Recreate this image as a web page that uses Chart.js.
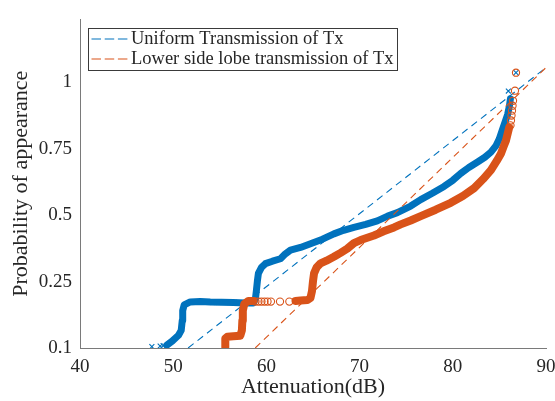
<!DOCTYPE html>
<html>
<head>
<meta charset="utf-8">
<script src="https://cdn.jsdelivr.net/npm/chart.js@4.4.0/dist/chart.umd.min.js"></script>
<style>
  html, body { margin: 0; padding: 0; background: #ffffff; }
  #wrap { width: 555px; height: 401px; }
</style>
</head>
<body>
<div id="wrap"><canvas id="chart" width="555" height="401" style="width:555px;height:401px"></canvas></div>
<script>
// Probability-scale positions (0 = 0.1, 1 = 0.25, 2 = 0.5, 3 = 0.75, 4 = 1)
const yTickPos = [0, 1, 2, 3, 4];
const yTickLabels = ['0.1', '0.25', '0.5', '0.75', '1'];

// Uniform transmission: dense sample band and isolated samples
const blueBandX = [49.32, 49.89, 50.57, 50.86, 50.97, 51.02, 51.18, 51.83, 52.90, 53.98, 55.20, 56.45, 57.74, 58.60, 58.82, 58.92, 59.03, 59.14, 59.46, 59.89, 60.65, 61.51, 62.04, 62.58, 63.66, 64.73, 66.02, 67.24, 68.28, 69.39, 70.65, 71.90, 73.01, 74.05, 75.48, 76.56, 77.85, 79.06, 80.00, 80.86, 81.72, 82.66, 83.44, 84.09, 84.62, 84.98, 85.27, 85.52, 85.88, 86.08, 86.18];
const blueBandY = [0.044, 0.103, 0.192, 0.266, 0.413, 0.561, 0.649, 0.694, 0.701, 0.694, 0.690, 0.686, 0.679, 0.679, 0.738, 0.856, 1.004, 1.122, 1.210, 1.269, 1.306, 1.343, 1.417, 1.472, 1.513, 1.569, 1.638, 1.717, 1.771, 1.815, 1.860, 1.914, 1.985, 2.037, 2.136, 2.233, 2.332, 2.431, 2.524, 2.627, 2.716, 2.800, 2.871, 2.948, 3.041, 3.144, 3.262, 3.365, 3.513, 3.646, 3.749];
const blueMarkX = [47.71, 48.60, 48.92, 54.19, 54.84, 55.48, 56.02, 56.56, 85.96, 86.78];
const blueMarkY = [0.020, 0.030, 0.035, 0.686, 0.686, 0.690, 0.686, 0.686, 3.867, 4.143];

// Lower side lobe transmission: two dense bands and isolated samples
const orangeLowX = [55.59, 55.59, 55.81, 56.45, 57.20, 57.37, 57.42, 57.47, 57.63, 58.06, 58.60];
const orangeLowY = [0.015, 0.143, 0.170, 0.177, 0.185, 0.266, 0.413, 0.561, 0.664, 0.708, 0.708];
const orangeHighX = [63.12, 63.66, 64.41, 64.73, 64.89, 65.00, 65.11, 65.38, 65.81, 66.45, 67.24, 67.96, 68.68, 69.39, 70.11, 71.54, 72.58, 73.69, 74.41, 75.48, 76.56, 78.17, 79.78, 81.08, 82.29, 83.23, 84.09, 84.73, 85.16, 85.48, 85.70, 86.05];
const orangeHighY = [0.708, 0.716, 0.723, 0.753, 0.856, 1.004, 1.122, 1.210, 1.274, 1.314, 1.373, 1.432, 1.495, 1.579, 1.624, 1.693, 1.756, 1.815, 1.860, 1.919, 1.985, 2.081, 2.185, 2.288, 2.406, 2.539, 2.676, 2.819, 2.923, 3.041, 3.119, 3.317];
const orangeMarkX = [58.83, 59.15, 59.47, 59.80, 60.12, 60.49, 61.46, 62.46, 86.19, 86.24, 86.30, 86.35, 86.41, 86.46, 86.67, 86.78];
const orangeMarkY = [0.698, 0.698, 0.698, 0.698, 0.698, 0.698, 0.698, 0.698, 3.351, 3.424, 3.498, 3.572, 3.646, 3.720, 3.872, 4.143];

// Reference (fit) lines
const uniformFitX = [51.6, 90];
const uniformFitY = [0, 4.22];
const lowerFitX = [58.8, 90];
const lowerFitY = [0, 4.22];

const BLUE = '#0072BD';
const ORANGE = '#D95319';
const TEXT = '#262626';
const AXIS = '#7a7a7a';
const SERIF = "'Liberation Serif', 'Times New Roman', serif";

const pts = (xs, ys) => xs.map((x, i) => ({ x: x, y: ys[i] }));

function band(xs, ys, color, width, order) {
  return {
    data: pts(xs, ys), showLine: true, borderColor: color, backgroundColor: color,
    borderWidth: width, pointRadius: 0, borderCapStyle: 'round', borderJoinStyle: 'round',
    tension: 0, order: order
  };
}
function marks(xs, ys, color, style, radius, order) {
  return {
    data: pts(xs, ys), showLine: false, borderColor: color, backgroundColor: 'rgba(0,0,0,0)',
    pointStyle: style, pointRadius: radius, pointBorderWidth: 1.1, order: order
  };
}
function fit(xs, ys, color, label, order) {
  return {
    label: label, data: pts(xs, ys), showLine: true, borderColor: color,
    borderWidth: 1.1, borderDash: [7, 5], pointRadius: 0, order: order
  };
}

// Boxed legend in the upper-left corner of the plot area
const boxLegend = {
  id: 'boxLegend',
  afterDatasetsDraw(chart) {
    const { ctx, chartArea } = chart;
    const items = chart.data.datasets.filter(d => d.label);
    ctx.save();
    ctx.font = '18.5px ' + SERIF;
    const left = Math.round(chartArea.left + 8) + 0.5;
    const top = Math.round(chartArea.top + 9) + 0.5;
    const textX = left + 42.5;
    const maxW = Math.max(...items.map(d => ctx.measureText(d.label).width));
    const rowH = 20;
    const boxW = Math.round(textX - left + maxW + 4);
    const boxH = 42;
    ctx.fillStyle = '#ffffff';
    ctx.fillRect(left, top, boxW, boxH);
    ctx.strokeStyle = '#3a3a3a';
    ctx.lineWidth = 1;
    ctx.strokeRect(left, top, boxW, boxH);
    items.forEach((d, i) => {
      const y = top + 10.5 + i * rowH;
      ctx.strokeStyle = d.borderColor;
      ctx.lineWidth = 1.1;
      ctx.setLineDash([9.5, 3.7]);
      ctx.beginPath();
      ctx.moveTo(left + 3, y);
      ctx.lineTo(left + 39, y);
      ctx.stroke();
      ctx.setLineDash([]);
      ctx.fillStyle = TEXT;
      ctx.textBaseline = 'middle';
      ctx.textAlign = 'left';
      ctx.fillText(d.label, textX, y + 0.5);
    });
    ctx.restore();
  }
};

new Chart(document.getElementById('chart').getContext('2d'), {
  type: 'scatter',
  data: {
    datasets: [
      band(blueBandX, blueBandY, BLUE, 7, 6),
      marks(blueMarkX, blueMarkY, BLUE, 'crossRot', 3.5, 5),
      fit(uniformFitX, uniformFitY, BLUE, 'Uniform Transmission of Tx', 4),
      band(orangeLowX, orangeLowY, ORANGE, 8, 3),
      band(orangeHighX, orangeHighY, ORANGE, 8, 3),
      marks(orangeMarkX, orangeMarkY, ORANGE, 'circle', 3.6, 2),
      fit(lowerFitX, lowerFitY, ORANGE, 'Lower side lobe transmission of Tx', 1)
    ]
  },
  options: {
    responsive: false,
    animation: false,
    devicePixelRatio: 1,
    layout: { padding: { left: 0, right: 0, top: 13, bottom: 0 } },
    plugins: { legend: { display: false }, tooltip: { enabled: false } },
    scales: {
      x: {
        type: 'linear', min: 40, max: 90,
        grid: { display: false, drawTicks: false },
        border: { display: true, color: AXIS, width: 1 },
        ticks: { stepSize: 10, color: TEXT, padding: 8, font: { family: SERIF, size: 19 }, maxRotation: 0 },
        title: { display: true, text: 'Attenuation(dB)', color: TEXT, font: { family: SERIF, size: 22 }, padding: { top: 0, bottom: 1 } },
        afterFit(scale) { scale.height = 53; scale.paddingRight = 9; }
      },
      y: {
        type: 'linear', min: 0, max: 4.945,
        grid: { display: false, drawTicks: false },
        border: { display: true, color: AXIS, width: 1 },
        afterBuildTicks(scale) { scale.ticks = yTickPos.map(v => ({ value: v })); },
        ticks: {
          color: TEXT, padding: 8, font: { family: SERIF, size: 19 },
          callback(v) { const i = yTickPos.indexOf(v); return i >= 0 ? yTickLabels[i] : ''; }
        },
        title: { display: true, text: 'Probability of appearance', color: TEXT, font: { family: SERIF, size: 22 }, padding: { top: 8, bottom: 0 } },
        afterFit(scale) { scale.width = 80; }
      }
    }
  },
  plugins: [boxLegend]
});
</script>
</body>
</html>
